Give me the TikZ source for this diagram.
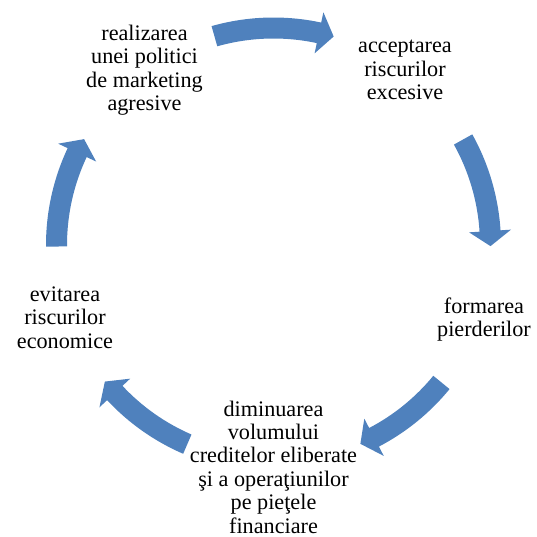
\documentclass[tikz,border=0pt]{standalone}
\usepackage{fontspec}
\setmainfont{Liberation Serif}
\usetikzlibrary{calc}
\definecolor{arrowblue}{RGB}{79,129,189}

\begin{document}
\begin{tikzpicture}[x=1pt,y=1pt,
  lbl/.style={align=center,inner sep=0pt,font=\fontsize{22.2}{23.4}\selectfont},
  cyclearrow/.style={fill=arrowblue,draw=none}]
\useasboundingbox (0,0) rectangle (536,-537);

% centre of the cycle
\coordinate (c) at (273.5,-245);

% stage labels
\node[lbl] (n1) at (144.5,-70)  {realizarea\\unei politici\\de marketing\\agresive};
\node[lbl] (n2) at (405,-70.2)  {acceptarea\\riscurilor\\excesive};
\node[lbl] (n3) at (484,-319.5) {formarea\\pierderilor};
\node[lbl] (n4) at (273.5,-467) {diminuarea\\volumului\\creditelor eliberate\\şi a operaţiunilor\\pe pieţele\\financiare};
\node[lbl] (n5) at (65,-317.4)  {evitarea\\riscurilor\\economice};

% curved block arrows running clockwise: tail angle / tip angle
\foreach \ta/\tb in {105.8/73.9, 29.1/-0.3, -39.3/-66.4, -113.4/-141, 180.4/150.8} {
  \pgfmathsetmacro\hb{\tb+4}
  \fill[cyclearrow]
    ($(c)+(\ta:227.5)$) arc[start angle=\ta, end angle=\hb, radius=227.5]
    -- ($(c)+(\hb:238)$) -- ($(c)+(\tb:217)$) -- ($(c)+(\hb:196)$)
    -- ($(c)+(\hb:206.5)$) arc[start angle=\hb, end angle=\ta, radius=206.5]
    -- cycle;
}
\end{tikzpicture}
\end{document}
